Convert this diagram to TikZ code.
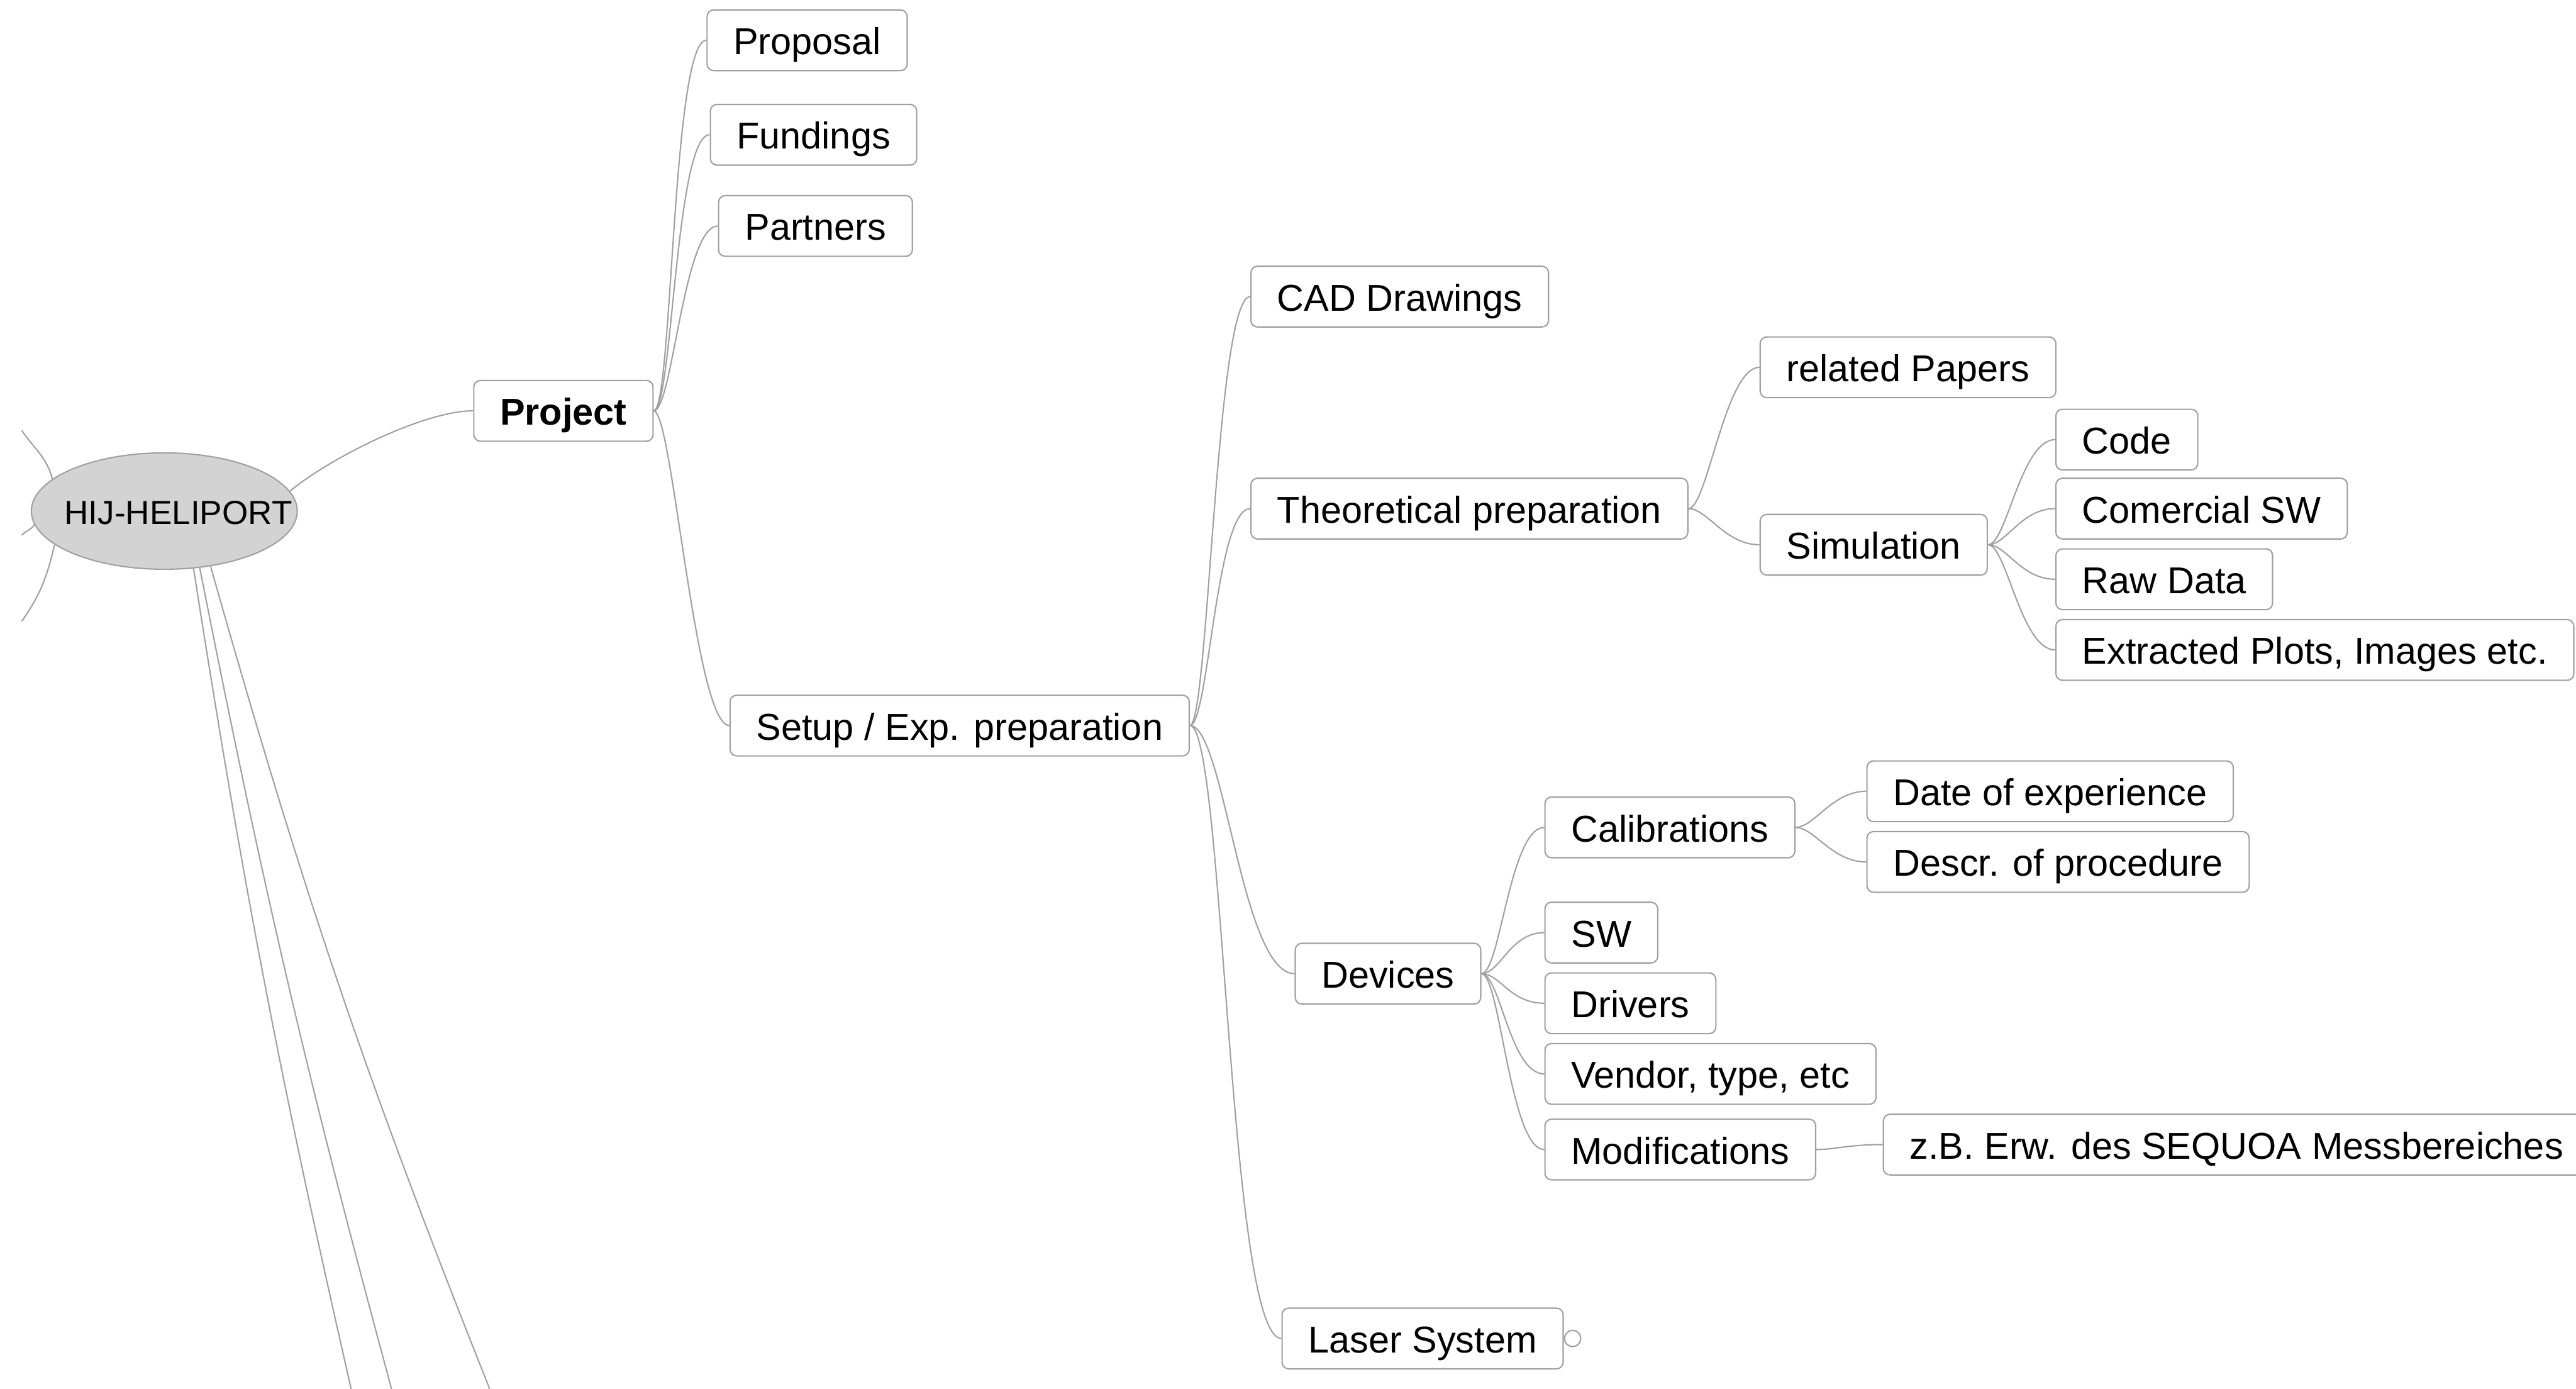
\documentclass[tikz,border=0pt]{standalone}
\usepackage{fontspec}
\setmainfont{Liberation Sans}
\usepackage{tikz}
\usetikzlibrary{shapes.geometric, positioning}
\definecolor{linegray}{HTML}{A0A0A0}
\definecolor{rootfill}{HTML}{D3D3D3}

\tikzset{
  topic/.style={draw=linegray, fill=white, rounded corners=3pt, line width=0.6pt, anchor=west,
    inner xsep=0.42cm, inner ysep=0pt, minimum height=0.97cm, text height=17pt, text depth=4pt,
    font=\fontsize{17}{20}\selectfont},
  edge/.style={draw=linegray, line width=0.6pt},
  twig/.style={out=0, in=180, out distance=0.3cm, in distance=0.55cm},
  longtwig/.style={out=0, in=180, out distance=0.55cm, in distance=0.85cm}
}

\begin{document}
\begin{tikzpicture}[x=0.02626cm, y=0.02626cm]
\useasboundingbox (0,0) rectangle (1568,-845);
\clip (0,0) rectangle (1568,-845);
\fill[white] (0,0) rectangle (1568,-845);

% central topic
\node[ellipse, draw=linegray, fill=rootfill, line width=0.6pt, minimum width=4.25cm, minimum height=1.86cm, inner sep=0pt] (hij) at (100,-311) {};
\node[font=\fontsize{15.2}{18}\selectfont] (hijlabel) at (108.5,-312) {HIJ-HELIPORT};

% branches leaving the picture
\coordinate (offa) at (216,-855);
\coordinate (offb) at (241,-855);
\coordinate (offc) at (302,-855);
\coordinate (offd) at (13.3,-262);
\coordinate (offe) at (13.3,-325.6);
\coordinate (offf) at (13.3,-378);
\draw[edge] (hij.-63) to[bend right=2] (offa);
\draw[edge] (hij.-58) to[bend right=2] (offb);
\draw[edge] (hij.-50) to[bend right=3] (offc);
\draw[edge] (hij.164) to[out=104, in=-56] (offd);
\draw[edge] (hij.186) to[out=235, in=45] (offe);
\draw[edge] (hij.197) to[out=257, in=55] (offf);

% Project
\node[topic, font={\fontsize{17}{20}\selectfont\bfseries}] (project) at (288,-250) {Project};
\node[topic] (proposal) at (430,-24.5) {Proposal};
\node[topic] (fundings) at (432,-82) {Fundings};
\node[topic] (partners) at (437,-137.5) {Partners};
\node[topic] (setup) at (444,-441.5) {Setup / Exp. preparation};

\draw[edge] (hij.9) to[out=40, in=180, out distance=0.8cm, in distance=0.8cm] (project.west);
\foreach \child in {proposal, fundings, partners, setup}
  \draw[edge] (project.east) to[twig] (\child.west);

% Setup / Exp. preparation
\node[topic] (cad) at (761,-180.5) {CAD Drawings};
\node[topic] (theo) at (761,-309.5) {Theoretical preparation};
\node[topic] (devices) at (788,-592.5) {Devices};
\node[topic] (laser) at (780,-814.5) {Laser System};
\node[circle, draw=linegray, fill=white, line width=0.6pt, inner sep=0pt, minimum size=0.26cm, right=0pt of laser] (laserfold) {};

\draw[edge] (setup.east) to[twig] (cad.west);
\draw[edge] (setup.east) to[twig] (theo.west);
\draw[edge] (setup.east) to[longtwig] (devices.west);
\draw[edge] (setup.east) to[longtwig] (laser.west);

% Theoretical preparation
\node[topic] (papers) at (1071,-223.5) {related Papers};
\node[topic] (sim) at (1071,-331.5) {Simulation};
\node[topic] (code) at (1251,-267.5) {Code};
\node[topic] (comsw) at (1251,-309.5) {Comercial SW};
\node[topic] (rawdata) at (1251,-352.5) {Raw Data};
\node[topic] (plots) at (1251,-395.5) {Extracted Plots, Images etc.};

\draw[edge] (theo.east) to[twig] (papers.west);
\draw[edge] (theo.east) to[twig] (sim.west);
\foreach \child in {code, comsw, rawdata, plots}
  \draw[edge] (sim.east) to[twig] (\child.west);

% Devices
\node[topic] (calib) at (940,-503.5) {Calibrations};
\node[topic] (sw) at (940,-567.5) {SW};
\node[topic] (drivers) at (940,-610.5) {Drivers};
\node[topic] (vendor) at (940,-653.5) {Vendor, type, etc};
\node[topic] (modif) at (940,-699.5) {Modifications};
\node[topic] (date) at (1136,-481.5) {Date of experience};
\node[topic] (descr) at (1136,-524.5) {Descr. of procedure};
\node[topic] (zb) at (1146,-696.5) {z.B. Erw. des SEQUOA Messbereiches};

\foreach \child in {calib, sw, drivers, vendor, modif}
  \draw[edge] (devices.east) to[twig] (\child.west);
\draw[edge] (calib.east) to[twig] (date.west);
\draw[edge] (calib.east) to[twig] (descr.west);
\draw[edge] (modif.east) to[twig] (zb.west);
\end{tikzpicture}
\end{document}
